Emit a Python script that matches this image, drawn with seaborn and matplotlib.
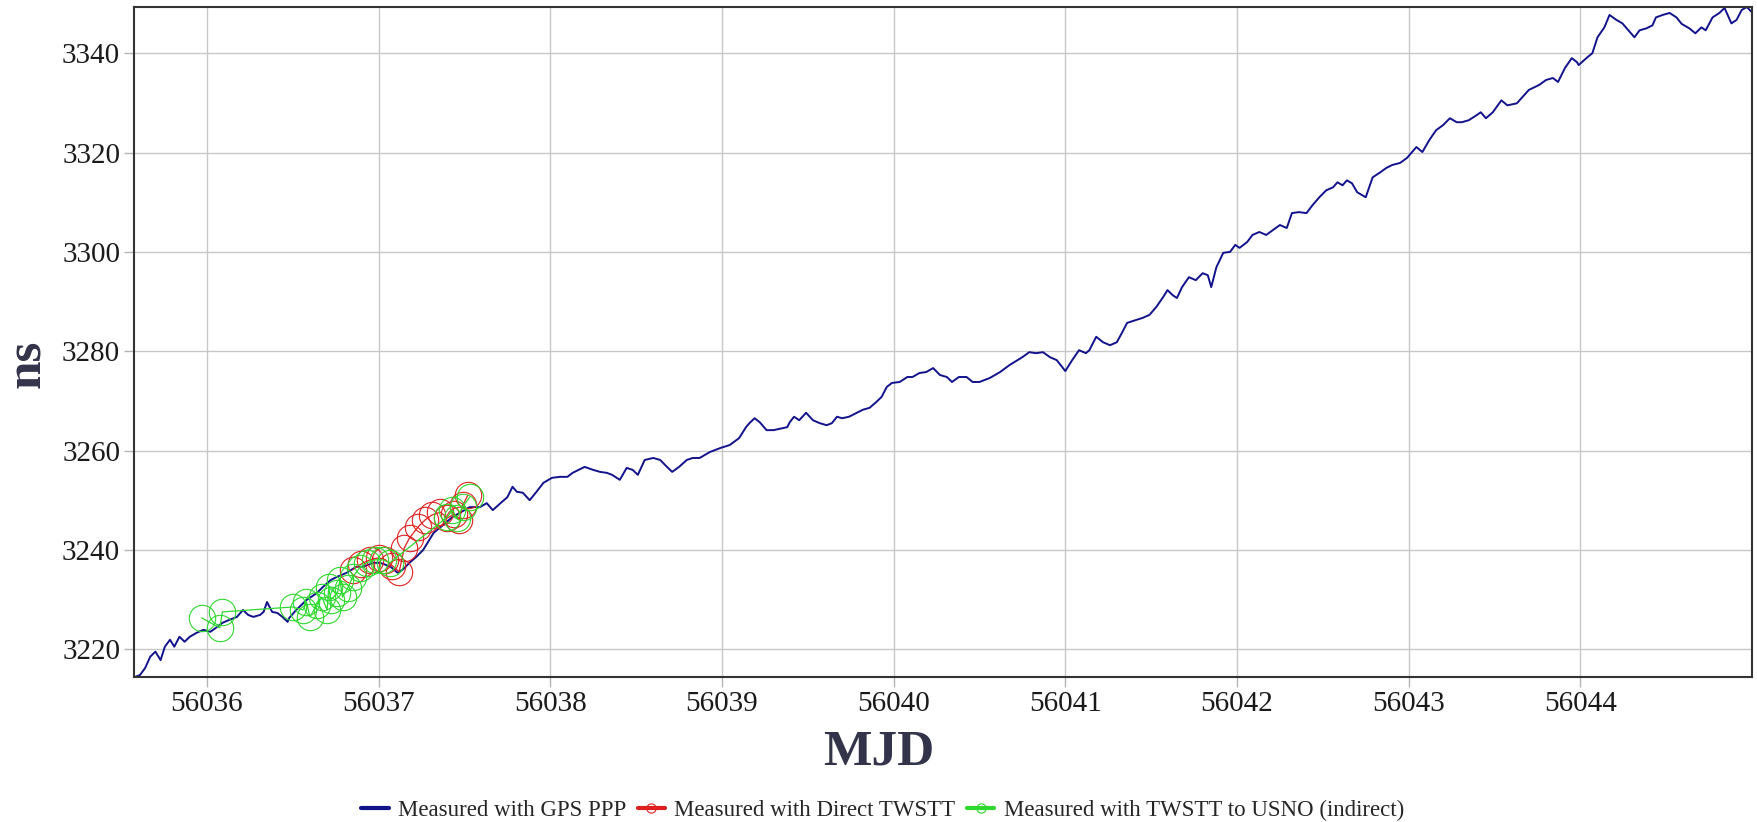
import numpy as np
import pandas as pd
import matplotlib
matplotlib.use("Agg")
import matplotlib.pyplot as plt
import seaborn as sns

# GPS PPP trace (MJD, ns)
gps_mjd = [
    56035.58, 56035.61, 56035.64, 56035.67, 56035.70, 56035.73, 56035.755, 56035.785, 56035.81, 56035.84,
    56035.87, 56035.90, 56035.94, 56035.98, 56036.02, 56036.06, 56036.09, 56036.13, 56036.175, 56036.21,
    56036.24, 56036.27, 56036.31, 56036.33, 56036.35, 56036.38, 56036.41, 56036.44, 56036.47, 56036.48,
    56036.52, 56036.58, 56036.64, 56036.675, 56036.72, 56036.76, 56036.815, 56036.87, 56036.91, 56036.97,
    56037.01, 56037.07, 56037.11, 56037.14, 56037.18, 56037.22, 56037.26, 56037.32, 56037.43, 56037.53,
    56037.59, 56037.63, 56037.665, 56037.71, 56037.75, 56037.78, 56037.805, 56037.84, 56037.88, 56037.92,
    56037.96, 56038.01, 56038.055, 56038.10, 56038.13, 56038.20, 56038.25, 56038.29, 56038.33, 56038.36,
    56038.405, 56038.445, 56038.48, 56038.51, 56038.55, 56038.60, 56038.64, 56038.68, 56038.71, 56038.75,
    56038.795, 56038.83, 56038.87, 56038.93, 56038.99, 56039.045, 56039.10, 56039.14, 56039.16, 56039.19,
    56039.22, 56039.26, 56039.30, 56039.38, 56039.395, 56039.42, 56039.45, 56039.49, 56039.53, 56039.57,
    56039.61, 56039.64, 56039.67, 56039.70, 56039.74, 56039.785, 56039.82, 56039.86, 56039.90, 56039.93,
    56039.96, 56039.99, 56040.035, 56040.08, 56040.11, 56040.15, 56040.19, 56040.23, 56040.27, 56040.31,
    56040.34, 56040.38, 56040.425, 56040.46, 56040.50, 56040.56, 56040.62, 56040.675, 56040.75, 56040.79,
    56040.83, 56040.87, 56040.91, 56040.95, 56041.00, 56041.04, 56041.08, 56041.12, 56041.14, 56041.18,
    56041.22, 56041.26, 56041.30, 56041.33, 56041.36, 56041.415, 56041.45, 56041.49, 56041.53, 56041.57,
    56041.595, 56041.625, 56041.65, 56041.68, 56041.72, 56041.76, 56041.80, 56041.83, 56041.85, 56041.88,
    56041.92, 56041.96, 56041.99, 56042.015, 56042.06, 56042.09, 56042.13, 56042.17, 56042.21, 56042.25,
    56042.29, 56042.32, 56042.36, 56042.405, 56042.44, 56042.48, 56042.52, 56042.56, 56042.585, 56042.615,
    56042.64, 56042.67, 56042.70, 56042.75, 56042.79, 56042.83, 56042.87, 56042.905, 56042.95, 56042.99,
    56043.02, 56043.045, 56043.08, 56043.12, 56043.16, 56043.20, 56043.24, 56043.28, 56043.31, 56043.35,
    56043.395, 56043.42, 56043.45, 56043.49, 56043.54, 56043.575, 56043.63, 56043.70, 56043.76, 56043.80,
    56043.84, 56043.87, 56043.91, 56043.95, 56043.98, 56043.99, 56044.035, 56044.07, 56044.10, 56044.14,
    56044.17, 56044.21, 56044.245, 56044.29, 56044.315, 56044.345, 56044.385, 56044.42, 56044.44, 56044.48,
    56044.52, 56044.56, 56044.59, 56044.635, 56044.67, 56044.705, 56044.73, 56044.77, 56044.81, 56044.84,
    56044.88, 56044.91, 56044.94, 56044.97, 56045.00,
]
gps_ns = [
    3214.4, 3214.8, 3216.2, 3218.5, 3219.5, 3217.8, 3220.5, 3221.9, 3220.5, 3222.5,
    3221.5, 3222.5, 3223.3, 3223.9, 3223.5, 3224.5, 3225.3, 3225.9, 3226.5, 3227.9,
    3226.9, 3226.5, 3226.9, 3227.5, 3229.5, 3227.5, 3227.3, 3226.5, 3225.5, 3226.3,
    3227.9, 3229.9, 3231.3, 3232.5, 3233.9, 3234.6, 3235.4, 3236.6, 3236.6, 3237.4,
    3237.4, 3236.6, 3235.4, 3236.0, 3237.4, 3238.6, 3240.0, 3243.4, 3246.6, 3248.6,
    3248.6, 3249.4, 3248.0, 3249.4, 3250.6, 3252.7, 3251.7, 3251.5, 3250.0, 3251.7,
    3253.5, 3254.5, 3254.7, 3254.7, 3255.5, 3256.7, 3256.1, 3255.7, 3255.5, 3255.1,
    3254.1, 3256.5, 3256.1, 3255.1, 3258.1, 3258.5, 3258.1, 3256.7, 3255.7, 3256.7,
    3258.1, 3258.5, 3258.5, 3259.7, 3260.5, 3261.1, 3262.5, 3264.7, 3265.5, 3266.5,
    3265.7, 3264.1, 3264.1, 3264.7, 3265.7, 3266.8, 3266.1, 3267.6, 3266.1, 3265.5,
    3265.1, 3265.5, 3266.8, 3266.5, 3266.8, 3267.6, 3268.2, 3268.6, 3269.8, 3270.8,
    3272.8, 3273.6, 3273.8, 3274.8, 3274.8, 3275.6, 3275.8, 3276.6, 3275.2, 3274.8,
    3273.8, 3274.8, 3274.8, 3273.8, 3273.8, 3274.6, 3275.8, 3277.2, 3278.8, 3279.8,
    3279.6, 3279.8, 3278.8, 3278.2, 3276.0, 3278.2, 3280.2, 3279.6, 3280.2, 3282.9,
    3281.8, 3281.2, 3281.8, 3283.7, 3285.7, 3286.3, 3286.7, 3287.3, 3288.9, 3290.9,
    3292.3, 3291.3, 3290.7, 3292.9, 3294.9, 3294.3, 3295.7, 3295.3, 3292.9, 3296.9,
    3299.8, 3300.0, 3301.4, 3300.8, 3302.0, 3303.4, 3304.0, 3303.4, 3304.4, 3305.4,
    3304.8, 3307.8, 3308.0, 3307.8, 3309.4, 3311.0, 3312.4, 3313.0, 3314.0, 3313.4,
    3314.4, 3313.8, 3312.0, 3311.0, 3315.0, 3315.9, 3316.9, 3317.5, 3317.9, 3318.9,
    3320.1, 3321.1, 3320.1, 3322.5, 3324.5, 3325.5, 3326.9, 3326.1, 3326.1, 3326.5,
    3327.5, 3328.1, 3326.9, 3328.1, 3330.5, 3329.5, 3329.9, 3332.6, 3333.6, 3334.6,
    3335.0, 3334.2, 3337.0, 3339.0, 3338.2, 3337.6, 3339.0, 3340.0, 3343.2, 3345.2,
    3347.7, 3346.7, 3346.0, 3344.2, 3343.2, 3344.6, 3345.0, 3345.6, 3347.2, 3347.7,
    3348.1, 3347.2, 3345.9, 3345.0, 3344.0, 3345.2, 3344.6, 3347.2, 3348.1, 3349.1,
    3346.0, 3346.7, 3348.7, 3349.3, 3348.2,
]

# Direct TWSTT points
direct_mjd = [56036.85, 56036.90, 56036.95, 56037.00, 56037.04, 56037.08, 56037.12, 56037.15, 56037.18,
              56037.23, 56037.27, 56037.31, 56037.36, 56037.40, 56037.44, 56037.47, 56037.49, 56037.52]
direct_ns = [3236.0, 3237.2, 3238.0, 3238.4, 3238.0, 3236.8, 3235.6, 3240.4, 3242.4,
             3244.6, 3246.0, 3247.0, 3247.6, 3246.4, 3247.2, 3246.0, 3249.0, 3251.0]

# TWSTT via USNO (indirect) points
usno_mjd = [56035.97, 56036.075, 56036.09, 56036.50, 56036.56, 56036.58, 56036.60, 56036.64,
            56036.67, 56036.70, 56036.71, 56036.72, 56036.76, 56036.775, 56036.79, 56036.82, 56036.85,
            56036.89, 56036.93, 56036.98, 56037.025, 56037.065, 56037.40, 56037.43, 56037.455,
            56037.49, 56037.53]
usno_ns = [3226.3, 3224.3, 3227.5, 3228.5, 3227.9, 3229.5, 3226.5, 3228.9,
           3230.5, 3227.9, 3232.5, 3229.9, 3231.3, 3233.9, 3230.5, 3232.3, 3234.6,
           3236.4, 3237.4, 3238.0, 3238.0, 3237.4, 3246.6, 3248.0, 3246.4,
           3248.6, 3250.6]

x_ticks = [56036, 56037, 56038, 56039, 56040, 56041, 56042, 56043, 56044]
y_ticks = [3220, 3240, 3260, 3280, 3300, 3320, 3340]

gps = pd.DataFrame({"MJD": gps_mjd, "ns": gps_ns})
direct = pd.DataFrame({"MJD": direct_mjd, "ns": direct_ns})
usno = pd.DataFrame({"MJD": usno_mjd, "ns": usno_ns})

sns.set_theme(style="whitegrid")
plt.rcParams["font.family"] = ["Liberation Serif", "DejaVu Serif"]

fig = plt.figure(figsize=(17.58, 8.22), dpi=100)
ax = fig.add_axes([0.0762, 0.1764, 0.9204, 0.8151])

sns.lineplot(data=gps, x="MJD", y="ns", ax=ax, sort=False, estimator=None,
             color="#12128c", linewidth=1.4, label="Measured with GPS PPP")
sns.lineplot(data=direct, x="MJD", y="ns", ax=ax, sort=False, estimator=None,
             color="#e02020", linewidth=0.9, marker="o", markersize=19,
             markerfacecolor="none", markeredgecolor="#e02020", markeredgewidth=0.8,
             label="Measured with Direct TWSTT")
sns.lineplot(data=usno, x="MJD", y="ns", ax=ax, sort=False, estimator=None,
             color="#2ed82e", linewidth=0.9, marker="o", markersize=19,
             markerfacecolor="none", markeredgecolor="#2ed82e", markeredgewidth=0.8,
             label="Measured with TWSTT to USNO (indirect)")

ax.set_xlim(56035.575, 56045.0)
ax.set_ylim(3214.4, 3349.3)
ax.set_xticks(x_ticks)
ax.set_xticklabels([str(t) for t in x_ticks])
ax.set_yticks(y_ticks)
ax.set_yticklabels([str(t) for t in y_ticks])
ax.set_xlabel("")
ax.set_ylabel("")

ax.grid(True, color="#c8c8c8", linewidth=1.0)
ax.tick_params(axis="both", which="major", length=7, width=1.0, color="#b4b4b4",
               labelsize=21, labelcolor="#1a1a1a", pad=3, bottom=True, left=True)
for s in ax.spines.values():
    s.set_color("#333333")
    s.set_linewidth(1.5)
ax.set_facecolor("white")

fig.text(0.5, 0.085, "MJD", ha="center", va="center", fontsize=37,
         fontweight="bold", color="#33334a")
fig.text(0.016, 0.558, "ns", ha="center", va="center", fontsize=37,
         fontweight="bold", color="#33334a", rotation=90)

handles, labels = ax.get_legend_handles_labels()
if ax.get_legend() is not None:
    ax.get_legend().remove()
fig.legend(handles, labels, loc="center", bbox_to_anchor=(0.502, 0.0135), ncol=3,
           frameon=False, fontsize=16.5, markerscale=0.35, handlelength=1.2,
           handletextpad=0.4, columnspacing=0.5, borderpad=0)
for line in fig.legends[0].get_lines():
    line.set_linewidth(3)

fig.savefig("out.png", dpi=100)
